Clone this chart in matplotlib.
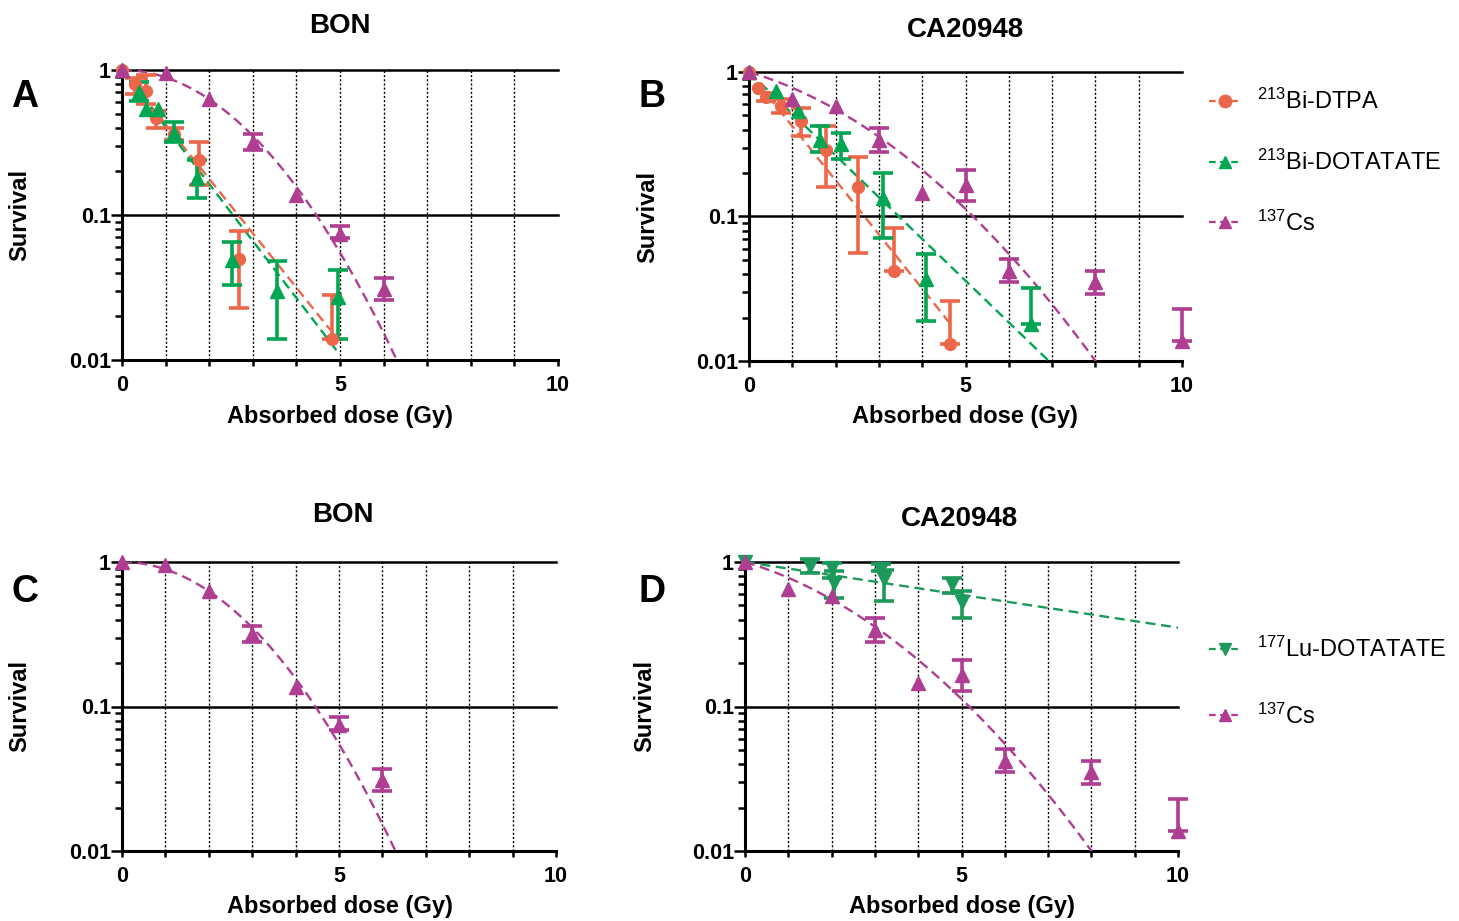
import numpy as np
import matplotlib.pyplot as plt
from matplotlib.lines import Line2D
from matplotlib.ticker import FixedLocator, NullFormatter

plt.rcParams['font.family'] = ['Liberation Sans', 'DejaVu Sans']
plt.rcParams['mathtext.fontset'] = 'custom'
plt.rcParams['mathtext.rm'] = 'Liberation Sans'
plt.rcParams['mathtext.it'] = 'Liberation Sans:italic'
plt.rcParams['mathtext.bf'] = 'Liberation Sans:bold'

orange = '#EC674A'
green = '#00A651'
magenta = '#AF3D91'
lu_green = '#1D9A5B'

# ---- BON (panel A) ----
bon_dtpa_x = [0, 0.3, 0.55, 0.78, 1.2, 1.77, 2.69, 4.82]
bon_dtpa_y = [1, 0.80, 0.72, 0.47, 0.36, 0.24, 0.050, 0.014]
bon_dtpa_lo = [1, 0.68, 0.58, 0.40, 0.33, 0.16, 0.023, 0.014]
bon_dtpa_hi = [1, 0.88, 0.92, 0.52, 0.40, 0.32, 0.077, 0.028]

bon_dota_x = [0, 0.38, 0.55, 0.82, 1.2, 1.71, 2.52, 3.55, 4.95]
bon_dota_y = [1, 0.70, 0.54, 0.54, 0.37, 0.18, 0.049, 0.030, 0.027]
bon_dota_lo = [1, 0.61, 0.54, 0.54, 0.32, 0.13, 0.033, 0.014, 0.014]
bon_dota_hi = [1, 0.82, 0.54, 0.54, 0.44, 0.24, 0.065, 0.048, 0.042]

bon_cs_x = [0, 1, 2, 3, 4, 5, 6]
bon_cs_y = [1, 0.95, 0.63, 0.32, 0.137, 0.074, 0.031]
bon_cs_lo = [1, 0.95, 0.63, 0.28, 0.137, 0.069, 0.026]
bon_cs_hi = [1, 0.95, 0.63, 0.36, 0.137, 0.084, 0.037]

# ---- CA20948 (panel B) ----
ca_dtpa_x = [0, 0.21, 0.4, 0.75, 1.2, 1.78, 2.52, 3.36, 4.65]
ca_dtpa_y = [1, 0.77, 0.67, 0.58, 0.46, 0.29, 0.16, 0.042, 0.0132]
ca_dtpa_lo = [1, 0.77, 0.63, 0.52, 0.36, 0.16, 0.056, 0.042, 0.0132]
ca_dtpa_hi = [1, 0.77, 0.72, 0.65, 0.56, 0.42, 0.26, 0.083, 0.026]

ca_dota_x = [0, 0.62, 1.13, 1.63, 2.13, 3.09, 4.09, 6.52]
ca_dota_y = [1, 0.74, 0.54, 0.34, 0.32, 0.135, 0.037, 0.018]
ca_dota_lo = [1, 0.74, 0.54, 0.28, 0.25, 0.071, 0.019, 0.018]
ca_dota_hi = [1, 0.74, 0.54, 0.42, 0.38, 0.20, 0.055, 0.032]

ca_cs_x = [0, 1, 2, 3, 4, 5, 6, 8, 10]
ca_cs_y = [1, 0.65, 0.58, 0.34, 0.146, 0.166, 0.042, 0.035, 0.0137]
ca_cs_lo = [1, 0.65, 0.58, 0.28, 0.146, 0.128, 0.035, 0.029, 0.0137]
ca_cs_hi = [1, 0.65, 0.58, 0.41, 0.146, 0.21, 0.051, 0.042, 0.023]

# ---- CA20948 177Lu (panel D) ----
ca_lu_x = [0, 1.5, 2.0, 2.05, 3.15, 3.2, 4.78, 5.0]
ca_lu_y = [1, 0.94, 0.91, 0.72, 0.90, 0.76, 0.70, 0.53]
ca_lu_lo = [1, 0.84, 0.78, 0.56, 0.86, 0.54, 0.61, 0.41]
ca_lu_hi = [1, 1.05, 0.98, 0.86, 0.97, 0.88, 0.78, 0.63]

# linear-quadratic fits: S = exp(-a*D - b*D^2), drawn from 0 to d_max
fit_bon_dtpa = (0.864, 0.0, 4.78)
fit_bon_dota = (0.905, 0.0, 4.94)
fit_bon_cs = (0.0, 0.116, 6.4)
fit_ca_dtpa = (0.863, 0.0, 4.63)
fit_ca_dota = (0.665, 0.0, 7.0)
fit_ca_cs = (0.205, 0.0463, 8.1)
fit_ca_lu = (0.1046, 0.0, 10.0)

W, H = 1459, 921
fig = plt.figure(figsize=(W / 100, H / 100), dpi=100)


def make_axes(left, top, right, bottom):
    ax = fig.add_axes([left / W, 1 - bottom / H, (right - left) / W, (bottom - top) / H])
    ax.set_yscale('log')
    ax.set_xlim(0, 10)
    ax.set_ylim(0.01, 1)
    ax.spines['top'].set_visible(False)
    ax.spines['right'].set_visible(False)
    ax.spines['left'].set_linewidth(2.2)
    ax.spines['bottom'].set_linewidth(2.2)
    ax.set_xticks([0, 5, 10])
    ax.set_xticklabels(['0', '5', '10'], fontsize=15.5, fontweight='bold')
    ax.xaxis.set_minor_locator(FixedLocator([1, 2, 3, 4, 6, 7, 8, 9]))
    ax.set_yticks([0.01, 0.1, 1])
    ax.set_yticklabels(['0.01', '0.1', '1'], fontsize=15.5, fontweight='bold')
    minors = [m * 10.0 ** e for e in (-2, -1) for m in range(2, 10)]
    ax.yaxis.set_minor_locator(FixedLocator(minors))
    ax.yaxis.set_minor_formatter(NullFormatter())
    ax.tick_params(axis='x', which='both', length=4.5, width=1.8, pad=6.5)
    ax.tick_params(axis='y', which='major', length=8, width=1.8, pad=0)
    ax.tick_params(axis='y', which='minor', length=5, width=1.8)
    for xv in range(1, 10):
        ax.plot([xv, xv], [0.01, 1], color='black', lw=1.0, ls=(0, (1.5, 1.5)), zorder=1)
    for yv in (1, 0.1):
        ax.axhline(yv, color='black', lw=1.8, zorder=2, clip_on=False)
    return ax


def draw_fit(ax, fit, color):
    a, b, dmax = fit
    d = np.linspace(0, dmax, 200)
    ax.plot(d, np.exp(-a * d - b * d ** 2), color=color, lw=1.7, ls=(0, (4.2, 2.4)), zorder=3)


def draw_points(ax, x, y, lo, hi, color, marker, ms):
    x = np.array(x)
    y = np.array(y)
    lo = np.array(lo)
    hi = np.array(hi)
    has_err = hi > lo
    if has_err.any():
        eb = ax.errorbar(x[has_err], y[has_err],
                         yerr=[y[has_err] - lo[has_err], hi[has_err] - y[has_err]],
                         fmt='none', ecolor=color, elinewidth=2.6, capsize=7, capthick=2.6, zorder=4)
        for art in eb.lines[1] + eb.lines[2]:
            art.set_clip_on(False)
    ax.plot(x, y, ls='none', marker=marker, ms=ms, color=color, mec=color, zorder=5, clip_on=False)


def labels(ax, title, tx, ty, letter, lx, ly, sx, sy, dx, dy):
    fig.text(tx / W, 1 - ty / H, title, fontsize=20, fontweight='bold', ha='center', va='center')
    fig.text(lx / W, 1 - ly / H, letter, fontsize=27, fontweight='bold', ha='center', va='center')
    fig.text(sx / W, 1 - sy / H, 'Survival', fontsize=17, fontweight='bold', ha='center', va='center',
             rotation=90)
    fig.text(dx / W, 1 - dy / H, 'Absorbed dose (Gy)', fontsize=17, fontweight='bold', ha='center',
             va='center')


def legend_handle(color, marker):
    return Line2D([], [], color=color, ls=(0, (3, 2)), lw=1.6, marker=marker, ms=9, mec=color)


# Panel A
axA = make_axes(122, 70, 558, 360)
draw_fit(axA, fit_bon_dtpa, orange)
draw_fit(axA, fit_bon_dota, green)
draw_fit(axA, fit_bon_cs, magenta)
draw_points(axA, bon_dtpa_x, bon_dtpa_y, bon_dtpa_lo, bon_dtpa_hi, orange, 'o', 8.5)
draw_points(axA, bon_dota_x, bon_dota_y, bon_dota_lo, bon_dota_hi, green, '^', 9.5)
draw_points(axA, bon_cs_x, bon_cs_y, bon_cs_lo, bon_cs_hi, magenta, '^', 10)
labels(axA, 'BON', 340, 26, 'A', 25, 97, 20, 215, 340, 416)

# Panel B
axB = make_axes(749, 72, 1182, 361)
draw_fit(axB, fit_ca_dtpa, orange)
draw_fit(axB, fit_ca_dota, green)
draw_fit(axB, fit_ca_cs, magenta)
draw_points(axB, ca_dtpa_x, ca_dtpa_y, ca_dtpa_lo, ca_dtpa_hi, orange, 'o', 8.5)
draw_points(axB, ca_dota_x, ca_dota_y, ca_dota_lo, ca_dota_hi, green, '^', 9.5)
draw_points(axB, ca_cs_x, ca_cs_y, ca_cs_lo, ca_cs_hi, magenta, '^', 9.5)
labels(axB, 'CA20948', 965, 30, 'B', 652, 97, 648, 217, 965, 416)

axB.legend([legend_handle(orange, 'o'), legend_handle(green, '^'), legend_handle(magenta, '^')],
           [r'$^{213}$Bi-DTPA', r'$^{213}$Bi-DOTATATE', r'$^{137}$Cs'],
           loc='upper left', bbox_to_anchor=(1209 / W, 1 - 89 / H), bbox_transform=fig.transFigure,
           frameon=False, fontsize=17, handlelength=1.35, handletextpad=0.7, labelspacing=1.5,
           borderpad=0, borderaxespad=0)

# Panel C
axC = make_axes(122, 562, 556, 851)
draw_fit(axC, fit_bon_cs, magenta)
draw_points(axC, bon_cs_x, bon_cs_y, bon_cs_lo, bon_cs_hi, magenta, '^', 10)
labels(axC, 'BON', 343, 515, 'C', 25, 592, 20, 706, 340, 906)

# Panel D
axD = make_axes(745, 562, 1178, 851)
draw_fit(axD, fit_ca_lu, lu_green)
draw_fit(axD, fit_ca_cs, magenta)
draw_points(axD, ca_lu_x, ca_lu_y, ca_lu_lo, ca_lu_hi, lu_green, 'v', 9.5)
draw_points(axD, ca_cs_x, ca_cs_y, ca_cs_lo, ca_cs_hi, magenta, '^', 9.5)
labels(axD, 'CA20948', 960, 519, 'D', 652, 592, 645, 706, 962, 906)

axD.legend([legend_handle(lu_green, 'v'), legend_handle(magenta, '^')],
           [r'$^{177}$Lu-DOTATATE', r'$^{137}$Cs'],
           loc='upper left', bbox_to_anchor=(1209 / W, 1 - 637 / H), bbox_transform=fig.transFigure,
           frameon=False, fontsize=17, handlelength=1.35, handletextpad=0.7, labelspacing=1.75,
           borderpad=0, borderaxespad=0)

fig.savefig('out.png', dpi=100)
